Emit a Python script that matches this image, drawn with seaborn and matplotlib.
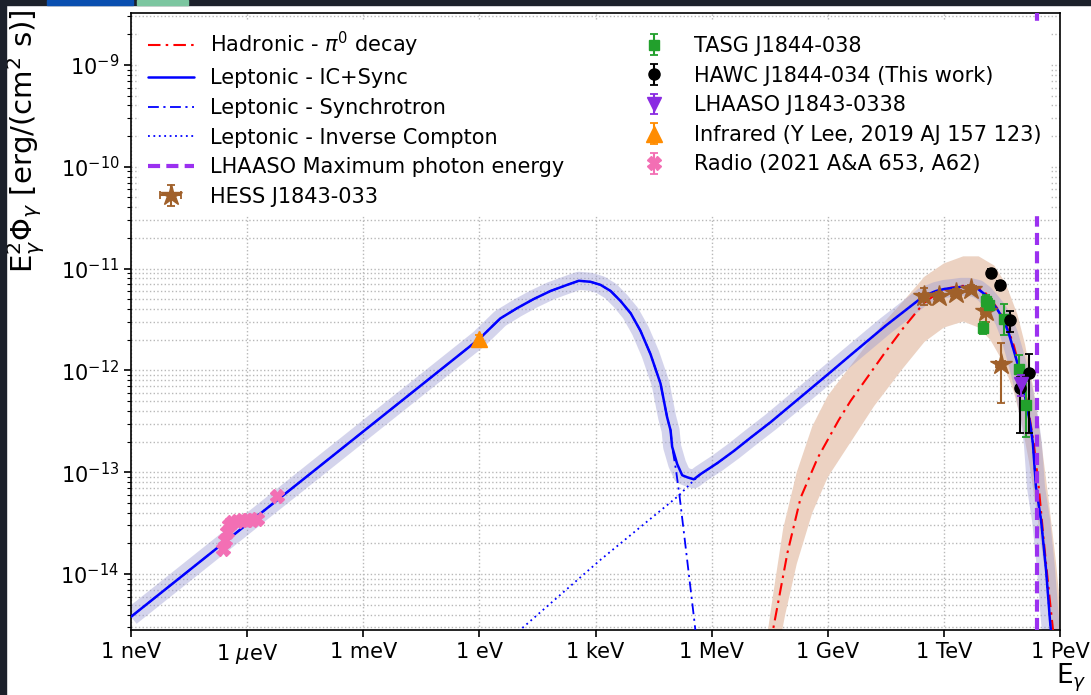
import numpy as np
import matplotlib
matplotlib.use("Agg")
import matplotlib.pyplot as plt
import seaborn as sns
from matplotlib.ticker import NullLocator, LogLocator, NullFormatter
from matplotlib.patches import Rectangle

# ---------------- data (log10 E [eV], log10 E^2 Phi [erg/cm2/s]) ----------------
lep_logE = [-9.0, -6.0, -3.0, 0.0, 0.54, 0.97, 1.40, 1.84, 2.27, 2.57, 2.87, 3.13, 3.39,
            3.65, 3.91, 4.16, 4.42, 4.68, 4.85, 4.94, 4.98, 5.11, 5.24, 5.37, 5.54, 5.71,
            6.15, 6.58, 7.01, 7.52, 9.00, 9.59, 10.50, 11.48, 11.80, 12.02, 12.25, 12.44,
            12.65, 12.88, 13.05, 13.21, 13.38, 13.55, 13.68, 13.81, 13.90, 13.99, 14.08,
            14.17, 14.24, 14.30, 14.38, 14.51, 14.64, 14.74, 14.80]
lep_logF = [-14.42, -13.51, -12.60, -11.69, -11.49, -11.39, -11.30, -11.22, -11.16, -11.12,
            -11.13, -11.16, -11.22, -11.32, -11.44, -11.61, -11.84, -12.13, -12.46, -12.59,
            -12.75, -12.92, -13.03, -13.05, -13.07, -13.02, -12.91, -12.79, -12.66, -12.51,
            -12.04, -11.85, -11.56, -11.27, -11.22, -11.20, -11.19, -11.18, -11.18, -11.20,
            -11.25, -11.32, -11.40, -11.51, -11.64, -11.81, -11.93, -12.07, -12.22, -12.40,
            -12.55, -12.72, -13.15, -13.47, -13.96, -14.45, -14.70]

sync_logE = [-9.0, -6.0, -3.0, 0.0, 0.54, 0.97, 1.40, 1.84, 2.27, 2.57, 2.87, 3.13, 3.39,
             3.65, 3.91, 4.16, 4.42, 4.68, 4.85, 4.94, 4.98, 5.08, 5.17, 5.33, 5.56, 5.62]
sync_logF = [-14.42, -13.51, -12.60, -11.69, -11.49, -11.39, -11.30, -11.22, -11.16, -11.12,
             -11.13, -11.16, -11.22, -11.32, -11.44, -11.61, -11.84, -12.13, -12.46, -12.59,
             -12.75, -12.98, -13.23, -13.74, -14.48, -14.70]

ic_logE = [0.90, 3.13, 5.15, 5.54, 5.71, 6.15, 6.58, 7.01, 7.52, 9.00, 9.59, 10.50, 11.48,
           11.80, 12.02, 12.25, 12.44, 12.65, 12.88, 13.05, 13.21, 13.38, 13.55, 13.68, 13.81,
           13.90, 13.99, 14.08, 14.17, 14.24, 14.30, 14.38, 14.51, 14.64, 14.74, 14.80]
ic_logF = [-14.60, -13.86, -13.23, -13.08, -13.02, -12.91, -12.79, -12.66, -12.51, -12.04,
           -11.85, -11.56, -11.27, -11.22, -11.20, -11.19, -11.18, -11.18, -11.20, -11.25,
           -11.32, -11.40, -11.51, -11.64, -11.81, -11.93, -12.07, -12.22, -12.40, -12.55,
           -12.72, -13.15, -13.47, -13.96, -14.45, -14.70]

had_logE = [7.50, 7.60, 7.96, 8.30, 8.74, 9.28, 9.59, 10.45, 10.96, 11.48, 11.84, 12.15,
            12.44, 12.70, 12.88, 13.05, 13.21, 13.38, 13.55, 13.68, 13.81, 13.99, 14.17,
            14.33, 14.46, 14.58, 14.71, 14.82, 14.90]
had_logF = [-14.70, -14.52, -13.79, -13.25, -12.86, -12.49, -12.30, -11.84, -11.58, -11.34,
            -11.24, -11.19, -11.17, -11.17, -11.19, -11.23, -11.30, -11.39, -11.50, -11.62,
            -11.76, -12.02, -12.35, -12.74, -13.18, -13.67, -14.16, -14.55, -14.80]

# hadronic uncertainty band (upper-left edge and lower-right edge)
had_band_hi_logE = [7.40, 7.55, 7.85, 8.20, 8.60, 9.00, 9.60, 10.40, 11.00, 11.50, 12.00,
                    12.50, 12.90, 13.30, 13.60, 13.90, 14.10, 14.30, 14.50, 14.70, 14.90, 15.10]
had_band_hi_logF = [-14.70, -14.30, -13.55, -13.00, -12.55, -12.25, -11.95, -11.55, -11.30,
                    -11.08, -10.95, -10.88, -10.88, -10.97, -11.15, -11.45, -11.75, -12.15,
                    -12.65, -13.25, -13.90, -14.70]
had_band_lo_logE = [7.75, 7.90, 8.20, 8.60, 9.00, 9.60, 10.20, 10.90, 11.50, 12.00, 12.50,
                    12.90, 13.20, 13.50, 13.80, 14.00, 14.20, 14.40, 14.60, 14.75, 14.90]
had_band_lo_logF = [-14.70, -14.40, -13.90, -13.40, -13.05, -12.70, -12.35, -12.00, -11.72,
                    -11.58, -11.52, -11.58, -11.70, -11.90, -12.20, -12.50, -12.90, -13.40,
                    -13.95, -14.40, -14.80]

lhaaso_max_logE = 14.40

hess_logE = [11.48, 11.87, 12.31, 12.70, 13.08, 13.47]
hess_logF = [-11.27, -11.27, -11.24, -11.20, -11.42, -11.94]
hess_lo_logF = [-11.36, -11.31, -11.28, -11.24, -11.52, -12.32]
hess_hi_logF = [-11.19, -11.23, -11.20, -11.16, -11.33, -11.73]

tasg_logE = [13.08, 13.16, 13.00, 13.55, 13.93, 14.13]
tasg_logF = [-11.32, -11.36, -11.58, -11.50, -11.99, -12.34]
tasg_lo_logF = [-11.38, -11.42, -11.64, -11.65, -12.15, -12.65]
tasg_hi_logF = [-11.26, -11.30, -11.52, -11.35, -11.85, -12.10]

hawc_logE = [13.21, 13.45, 13.70, 13.97, 14.20]
hawc_logF = [-11.04, -11.16, -11.51, -12.17, -12.03]
hawc_lo_logF = [-11.08, -11.21, -11.62, -12.62, -12.62]
hawc_hi_logF = [-11.00, -11.12, -11.42, -12.07, -11.84]

lhaaso_logE = [13.99]
lhaaso_logF = [-12.13]
lhaaso_lo_logF = [-12.25]
lhaaso_hi_logF = [-12.05]

ir_logE = [0.0]
ir_logF = [-11.69]
ir_lo_logF = [-11.73]
ir_hi_logF = [-11.65]

radio_logE = [-6.62, -6.57, -6.52, -6.47, -6.39, -6.26, -6.13, -6.00, -5.87, -5.74, -5.22]
radio_logF = [-13.75, -13.67, -13.59, -13.52, -13.49, -13.48, -13.47, -13.47, -13.47, -13.46, -13.23]

xtick_vals = [1e-9, 1e-6, 1e-3, 1e0, 1e3, 1e6, 1e9, 1e12, 1e15]
xtick_labels = ["1 neV", r"1 $\mu$eV", "1 meV", "1 eV", "1 keV", "1 MeV", "1 GeV", "1 TeV", "1 PeV"]


def p(a):
    return 10.0 ** np.asarray(a, dtype=float)


sns.set_style("ticks")
plt.rcParams["font.family"] = ["DejaVu Sans"]
plt.rcParams["mathtext.fontset"] = "dejavusans"
for k in ["text.color", "axes.labelcolor", "xtick.color", "ytick.color", "axes.edgecolor"]:
    plt.rcParams[k] = "black"

W, H = 1091, 695
fig = plt.figure(figsize=(W / 100, H / 100), dpi=100)
ax = fig.add_axes([131 / W, 1 - 630 / H, (1060 - 131) / W, (630 - 13) / H])
ax.set_xscale("log")
ax.set_yscale("log")
ax.set_xlim(1e-9, 1e15)
ax.set_ylim(10 ** -14.55, 10 ** -8.49)

# grids
ax.grid(True, which="major", axis="x", color="0.72", ls=":", lw=1.0)
ax.grid(True, which="both", axis="y", color="0.72", ls=":", lw=1.0)
ax.set_axisbelow(True)

# bands
ax.fill(np.concatenate([p(had_band_hi_logE), p(had_band_lo_logE)[::-1]]),
        np.concatenate([p(had_band_hi_logF), p(had_band_lo_logF)[::-1]]),
        color="#ecd2c2", lw=0, zorder=1)
sns.lineplot(x=p(lep_logE), y=p(lep_logF), ax=ax, color="#9a9ad2", alpha=0.42, lw=13,
             sort=False, estimator=None, solid_capstyle="butt", solid_joinstyle="round",
             zorder=1.5, legend=False)

# model curves
sns.lineplot(x=p(had_logE), y=p(had_logF), ax=ax, color="red", lw=1.5, ls=(0, (6, 2.5, 1.2, 2.5)),
             sort=False, estimator=None, label=r"Hadronic - $\pi^0$ decay", zorder=3)
sns.lineplot(x=p(lep_logE), y=p(lep_logF), ax=ax, color="blue", lw=1.8, sort=False,
             estimator=None, label="Leptonic - IC+Sync", zorder=3)
sns.lineplot(x=p(sync_logE), y=p(sync_logF), ax=ax, color="blue", lw=1.3,
             ls=(0, (6, 2.5, 1.2, 2.5)), sort=False, estimator=None,
             label="Leptonic - Synchrotron", zorder=2.8)
sns.lineplot(x=p(ic_logE), y=p(ic_logF), ax=ax, color="blue", lw=1.3, ls=(0, (1, 2)),
             sort=False, estimator=None, label="Leptonic - Inverse Compton", zorder=2.8)
ax.axvline(p(lhaaso_max_logE), color="#9b30f0", lw=3, ls=(0, (2.9, 1.5)), zorder=3,
           label="LHAASO Maximum photon energy")


def eb(lx, ly, lo, hi, **kw):
    y = p(ly)
    yerr = [y - p(lo), p(hi) - y]
    return ax.errorbar(p(lx), y, yerr=yerr, ls="none", capsize=3, elinewidth=1.5,
                       capthick=1.3, **kw)


x_hess = p(hess_logE)
eb(hess_logE, hess_logF, hess_lo_logF, hess_hi_logF,
   xerr=[x_hess - x_hess / 10 ** 0.12, x_hess * 10 ** 0.12 - x_hess],
   marker="*", ms=16, color="#a0602a", label="HESS J1843-033", zorder=5)
eb(tasg_logE, tasg_logF, tasg_lo_logF, tasg_hi_logF, marker="s", ms=7, color="#22a02c",
   label="TASG J1844-038", zorder=5)
eb(hawc_logE, hawc_logF, hawc_lo_logF, hawc_hi_logF, marker="o", ms=8, color="black",
   label="HAWC J1844-034 (This work)", zorder=5)
eb(lhaaso_logE, lhaaso_logF, lhaaso_lo_logF, lhaaso_hi_logF, marker="v", ms=10,
   color="#8a2be2", label="LHAASO J1843-0338", zorder=6)
eb(ir_logE, ir_logF, ir_lo_logF, ir_hi_logF, marker="^", ms=11, color="#ff8c00",
   label="Infrared (Y Lee, 2019 AJ 157 123)", zorder=5)
eb(radio_logE, radio_logF, radio_logF, radio_logF, marker="X", ms=10, color="#f36fb4",
   label="Radio (2021 A&A 653, A62)", zorder=5)

# axes formatting
ax.set_xticks(xtick_vals)
ax.set_xticklabels(xtick_labels)
ax.xaxis.set_minor_locator(NullLocator())
ax.yaxis.set_major_locator(LogLocator(base=10, numticks=20))
ax.yaxis.set_minor_locator(LogLocator(base=10, subs=np.arange(2, 10), numticks=20))
ax.yaxis.set_minor_formatter(NullFormatter())
ax.tick_params(axis="both", which="major", labelsize=15, length=5, width=1.2, direction="out",
               top=False, right=False, colors="black")
ax.tick_params(axis="y", which="minor", length=3, width=0.8, right=False)
for s in ax.spines.values():
    s.set_color("black")
    s.set_linewidth(1.2)

ax.set_ylabel(r"$\mathrm{E}_{\gamma}^{2}\Phi_{\gamma}$ [erg/(cm$^{2}$ s)]", fontsize=21, loc="top")
ax.yaxis.set_label_coords(-0.090, 1.006)
ax.set_xlabel(r"$\mathrm{E}_{\gamma}$", fontsize=19, loc="right")
ax.xaxis.set_label_coords(1.029, -0.052)

handles, labels = ax.get_legend_handles_labels()
order = ["Hadronic - $\\pi^0$ decay", "Leptonic - IC+Sync", "Leptonic - Synchrotron",
         "Leptonic - Inverse Compton", "LHAASO Maximum photon energy", "HESS J1843-033",
         "TASG J1844-038", "HAWC J1844-034 (This work)", "LHAASO J1843-0338",
         "Infrared (Y Lee, 2019 AJ 157 123)", "Radio (2021 A&A 653, A62)"]
hmap = dict(zip(labels, handles))
leg = ax.legend([hmap[k] for k in order], order, ncol=2, loc="upper left",
                bbox_to_anchor=(0.0, 1.0), fontsize=15, frameon=True, framealpha=1.0,
                edgecolor="white", fancybox=False, columnspacing=3.2, handlelength=2.2,
                borderaxespad=0.4, labelspacing=0.46)
leg.set_zorder(10)

# screenshot frame
fig.patches.append(Rectangle((0, 0), 6 / W, 1, transform=fig.transFigure, color="#1c212b", zorder=20))
fig.patches.append(Rectangle((0, 1 - 5 / H), 1, 5 / H, transform=fig.transFigure, color="#1c212b", zorder=20))
fig.patches.append(Rectangle((47 / W, 1 - 5 / H), 86 / W, 5 / H, transform=fig.transFigure, color="#0a4fb0", zorder=21))
fig.patches.append(Rectangle((137 / W, 1 - 5 / H), 51 / W, 5 / H, transform=fig.transFigure, color="#7cc6a0", zorder=21))

fig.savefig("out.png", dpi=100)
